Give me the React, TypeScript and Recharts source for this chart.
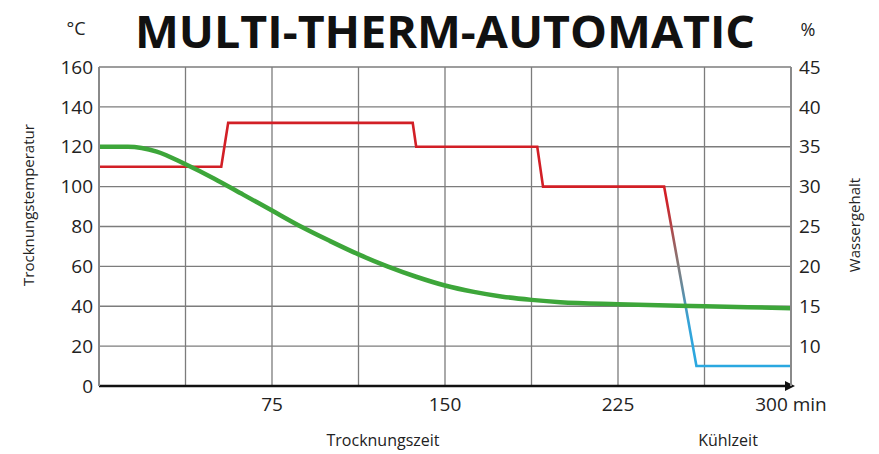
import { LineChart, Line, XAxis, YAxis, CartesianGrid } from 'recharts';

// Trocknungstemperatur (°C) über der Zeit (min)
const tempMinutes = [0, 53, 56, 136, 137.5, 190, 192.5, 245, 259, 300];
const tempValues = [110, 110, 132, 132, 120, 120, 100, 100, 10, 10];

// Wassergehalt (%) über der Zeit (min)
const waterMinutes = [0, 12.5, 25, 37.5, 50, 62.5, 75, 87.5, 100, 112.5, 125, 137.5, 150, 162.5, 175, 187.5, 200, 225, 262.5, 300];
const waterValues = [35, 35, 34.4, 32.8, 31, 29, 27, 25, 23.2, 21.5, 20, 18.7, 17.6, 16.8, 16.2, 15.8, 15.5, 15.25, 15, 14.75];

const timeTicks = [0, 37.5, 75, 112.5, 150, 187.5, 225, 262.5, 300];
const timeLabels = [75, 150, 225];
const tempTicks = [0, 20, 40, 60, 80, 100, 120, 140, 160];
const waterTicks = [10, 15, 20, 25, 30, 35, 40, 45];

const FONT = '"Open Sans", "DejaVu Sans", sans-serif';
const TEXT = '#222';
const GRID = '#7c7c7c';

const tempData = tempMinutes.map((t, i) => ({ t, temp: tempValues[i] }));
const waterData = waterMinutes.map((t, i) => ({ t, water: waterValues[i] }));

// where 100 °C sits inside the red line's bounding box (top=max, bottom=min)
const tMax = Math.max(...tempValues);
const tMin = Math.min(...tempValues);
const redEnd = (tMax - 100) / (tMax - tMin);

const fmtTime = (v: number) => {
  if (v === 300) return '300 min';
  return timeLabels.includes(v) ? String(v) : '';
};

export default function App() {
  return (
    <div style={{ position: 'absolute', left: 0, top: 0, width: 879, height: 454, background: '#fff' }}>
      <LineChart
        width={879}
        height={454}
        margin={{ top: 67, right: 0, bottom: 0, left: 0 }}
      >
        <defs>
          <linearGradient id="tempStroke" x1="0" y1="0" x2="0" y2="1">
            <stop offset={0} stopColor="#d21f26" />
            <stop offset={redEnd + 0.05} stopColor="#d21f26" />
            <stop offset={0.58} stopColor="#857a78" />
            <stop offset={0.82} stopColor="#35a3d8" />
            <stop offset={1} stopColor="#2aa8e0" />
          </linearGradient>
          <marker id="axisArrow" viewBox="0 0 10 10" refX={6} refY={5} markerWidth={5} markerHeight={4} orient="auto" markerUnits="strokeWidth">
            <path d="M0,0 L10,5 L0,10 z" fill="#111" />
          </marker>
        </defs>
        <CartesianGrid yAxisId="left" stroke={GRID} strokeWidth={1.3} />
        <XAxis
          dataKey="t"
          type="number"
          domain={[0, 300]}
          ticks={timeTicks}
          tickFormatter={fmtTime}
          allowDuplicatedCategory={false}
          height={68}
          tickLine={false}
          tickSize={0}
          tickMargin={12}
          interval={0}
          axisLine={{ stroke: '#111', strokeWidth: 2.5, markerEnd: 'url(#axisArrow)' }}
          tick={{ fill: TEXT, fontSize: 19, fontFamily: FONT }}
        />
        <YAxis
          yAxisId="left"
          orientation="left"
          type="number"
          domain={[0, 160]}
          ticks={tempTicks}
          width={99}
          tickLine={false}
          tickSize={0}
          tickMargin={6}
          interval={0}
          axisLine={{ stroke: '#8a8a8a', strokeWidth: 2 }}
          tick={{ fill: TEXT, fontSize: 19, fontFamily: FONT }}
        />
        <YAxis
          yAxisId="right"
          orientation="right"
          type="number"
          domain={[5, 45]}
          ticks={waterTicks}
          width={88}
          tickLine={false}
          tickSize={0}
          tickMargin={8}
          interval={0}
          axisLine={{ stroke: '#8a8a8a', strokeWidth: 2 }}
          tick={{ fill: TEXT, fontSize: 19, fontFamily: FONT, textAnchor: 'start' }}
        />
        <Line
          yAxisId="left"
          data={tempData}
          dataKey="temp"
          type="linear"
          stroke="url(#tempStroke)"
          strokeWidth={2.6}
          dot={false}
          activeDot={false}
          isAnimationActive={false}
        />
        <Line
          yAxisId="right"
          data={waterData}
          dataKey="water"
          type="monotone"
          stroke="#3da63a"
          strokeWidth={4.5}
          dot={false}
          activeDot={false}
          isAnimationActive={false}
        />
      </LineChart>
      <svg
        width={879}
        height={454}
        style={{ position: 'absolute', left: 0, top: 0, pointerEvents: 'none' }}
        fontFamily={FONT}
        fill={TEXT}
      >
        <text x={135} y={48} fontSize={45} fontWeight={700} fill="#111" textLength={620} lengthAdjust="spacingAndGlyphs">
          MULTI-THERM-AUTOMATIC
        </text>
        <text x={76} y={35} fontSize={18} textAnchor="middle">°C</text>
        <text x={808} y={36} fontSize={18} textAnchor="middle">%</text>
        <text x={34} y={205} fontSize={15} textAnchor="middle" transform="rotate(-90 34 205)">
          Trocknungstemperatur
        </text>
        <text x={860} y={225} fontSize={15} textAnchor="middle" transform="rotate(-90 860 225)">
          Wassergehalt
        </text>
        <text x={383} y={446} fontSize={16} textAnchor="middle">Trocknungszeit</text>
        <text x={728} y={446} fontSize={16} textAnchor="middle">Kühlzeit</text>
      </svg>
    </div>
  );
}
